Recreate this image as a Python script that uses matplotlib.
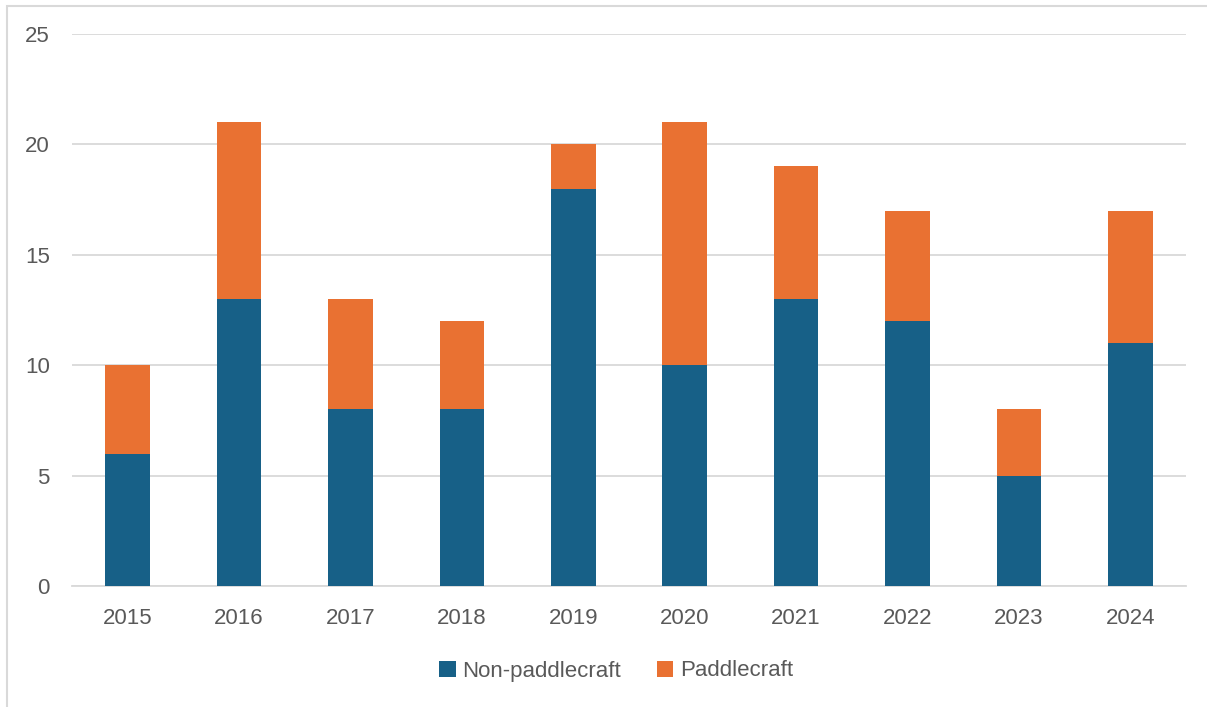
import numpy as np
import matplotlib
matplotlib.use("Agg")
import matplotlib.pyplot as plt
from matplotlib.patches import Rectangle

# ---- data ----
years = ["2015", "2016", "2017", "2018", "2019", "2020", "2021", "2022", "2023", "2024"]
non_paddlecraft = [6, 13, 8, 8, 18, 10, 13, 12, 5, 11]
paddlecraft = [4, 8, 5, 4, 2, 11, 6, 5, 3, 6]

blue = "#176087"
orange = "#E97132"
text_col = "#595959"
grid_col = "#D9D9D9"

plt.rcParams["font.family"] = ["Liberation Sans", "DejaVu Sans"]

fig = plt.figure(figsize=(12.07, 7.07), dpi=100)
ax = fig.add_axes([72 / 1207, 1 - 586 / 707, (1186 - 72) / 1207, (586 - 34) / 707])

x = np.arange(len(years))
ax.bar(x, non_paddlecraft, width=0.4, color=blue, label="Non-paddlecraft", zorder=3)
ax.bar(x, paddlecraft, width=0.4, bottom=non_paddlecraft, color=orange,
       label="Paddlecraft", zorder=3)

ax.set_xlim(-0.5, len(years) - 0.5)
ax.set_ylim(0, 25)
ax.set_yticks(range(0, 26, 5))
ax.set_xticks(x)
ax.set_xticklabels(years)
ax.yaxis.grid(True, color=grid_col, linewidth=1.3, zorder=0)
for s in ["top", "right", "left"]:
    ax.spines[s].set_visible(False)
ax.spines["bottom"].set_color(grid_col)
ax.spines["bottom"].set_linewidth(1.3)
ax.tick_params(axis="both", length=0, labelsize=16, colors=text_col)
ax.tick_params(axis="y", pad=16)
ax.tick_params(axis="x", pad=16)

leg = fig.legend(loc="center", bbox_to_anchor=(616 / 1207, 1 - 671 / 707), ncol=2,
                 frameon=False, fontsize=16, handlelength=0.75, handleheight=0.75,
                 handletextpad=0.3, columnspacing=1.6)
for t in leg.get_texts():
    t.set_color(text_col)

# outer chart border (partly cropped in the reference)
fig.patches.append(Rectangle((7 / 1207, -0.1), 1.2, 1 - 6 / 707 + 0.1,
                             transform=fig.transFigure, fill=False,
                             edgecolor="#D9D9D9", linewidth=1.5))

fig.savefig("out.png", dpi=100)
